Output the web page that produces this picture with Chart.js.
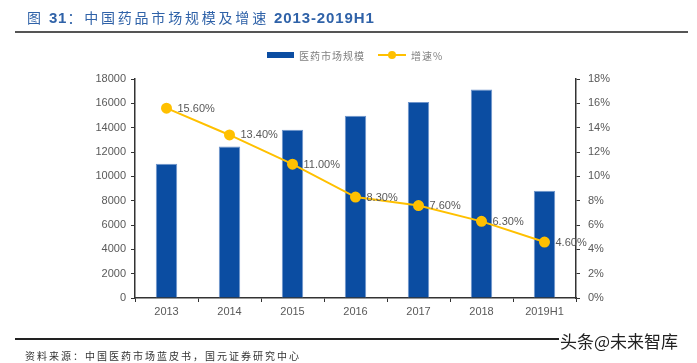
<!DOCTYPE html>
<html><head><meta charset="utf-8">
<script src="https://cdn.jsdelivr.net/npm/chart.js@4"></script>
<style>
html,body{margin:0;padding:0;background:#fff;}
#wrap{position:relative;width:697px;height:363px;overflow:hidden;font-family:"Liberation Sans","Noto Sans CJK SC",sans-serif;}
#c{position:absolute;left:0;top:0;}
.title{position:absolute;left:27px;top:8px;line-height:18px;color:#2F62A8;white-space:nowrap;}
.title .lat{font-family:"Liberation Sans",Arial,sans-serif;font-weight:bold;font-size:15px;letter-spacing:0.9px;}
.title .cjk{font-family:"Noto Sans CJK SC",sans-serif;font-size:14px;letter-spacing:2.8px;}
.rule1{position:absolute;left:15px;top:31px;width:673px;height:1.5px;background:#555;}
.rule2{position:absolute;left:15px;top:338px;width:544px;height:2px;background:#222;}
.src{position:absolute;left:25px;top:349px;line-height:14px;font-size:10px;letter-spacing:2px;color:#333;font-family:"Noto Sans CJK SC",sans-serif;white-space:nowrap;}
.wm{position:absolute;left:560px;top:331px;line-height:20px;font-size:17px;color:#222;font-family:"Noto Sans CJK SC",sans-serif;white-space:nowrap;}
.leg{position:absolute;top:46px;font-size:10px;letter-spacing:1px;color:#808080;font-family:"Noto Sans CJK SC",sans-serif;white-space:nowrap;}
</style></head>
<body><div id="wrap">
<canvas id="c" width="697" height="363"></canvas>
<div class="title"><span class="cjk">图</span><span class="lat">&nbsp;31</span><span class="cjk">：中国药品市场规模及增速</span><span class="lat" style="margin-left:5px;">2013-2019H1</span></div>
<div class="rule1"></div>
<div class="leg" style="left:267px;"><span style="display:inline-block;width:27px;height:6px;background:#0B4DA2;vertical-align:middle;margin-right:5px;"></span><span style="vertical-align:middle">医药市场规模</span></div>
<div class="leg" style="left:378px;"><span style="display:inline-block;position:relative;width:28px;height:2px;background:#FFC000;vertical-align:middle;margin-right:5px;"><span style="position:absolute;left:10px;top:-3px;width:8px;height:8px;border-radius:4px;background:#FFC000;"></span></span><span style="vertical-align:middle">增速%</span></div>
<div class="rule2"></div>
<div class="src">资料来源：中国医药市场蓝皮书，国元证券研究中心</div>
<div class="wm">头条@未来智库</div>
</div>
<script>
const categories = ["2013","2014","2015","2016","2017","2018","2019H1"];
const marketSize = [11028, 12457, 13829, 14975, 16118, 17131, 8819];
const growthPct = [15.6, 13.4, 11.0, 8.3, 7.6, 6.3, 4.6];
const growthLabels = ["15.60%","13.40%","11.00%","8.30%","7.60%","6.30%","4.60%"];

const labelPlugin = {
  id:'lineLabels',
  afterDatasetsDraw(chart){
    const meta = chart.getDatasetMeta(0);
    const ctx = chart.ctx;
    ctx.save();
    ctx.font = '11px "Liberation Sans", Arial, sans-serif';
    ctx.fillStyle = '#595959';
    ctx.textAlign = 'left';
    ctx.textBaseline = 'middle';
    meta.data.forEach((p,i)=>{ ctx.fillText(growthLabels[i], p.x+11, p.y+0.5); });
    ctx.restore();
  }
};

new Chart(document.getElementById('c'), {
  data:{
    labels: categories,
    datasets:[
      {type:'line', label:'增速%', data: growthPct, yAxisID:'y1', borderColor:'#FFC000', backgroundColor:'#FFC000', borderWidth:2, pointRadius:4.5, pointHoverRadius:4.5, tension:0, order:0},
      {type:'bar', label:'医药市场规模', data: marketSize, yAxisID:'y', backgroundColor:'#0B4DA2', borderColor:'#6F95CC', borderWidth:{top:1,left:1,right:1,bottom:0}, categoryPercentage:1, barPercentage:0.34, order:1}
    ]
  },
  options:{
    responsive:false, animation:false,
    layout:{padding:{top:79,left:0,right:0,bottom:0}},
    plugins:{legend:{display:false}, tooltip:{enabled:false}},
    scales:{
      x:{
        offset:true,
        grid:{display:true, offset:true, drawOnChartArea:false, tickLength:4, color:'#333'},
        border:{color:'#333', width:1.5},
        ticks:{color:'#595959', font:{size:11, family:'"Liberation Sans", Arial'}, padding:3, maxRotation:0},
        afterFit(s){ s.height = 65; }
      },
      y:{
        position:'left', min:0, max:18000,
        ticks:{stepSize:2000, color:'#595959', font:{size:11, family:'"Liberation Sans", Arial'}, padding:5, callback:v=>String(v)},
        grid:{display:true, drawOnChartArea:false, tickLength:4, color:'#333'},
        border:{color:'#333', width:1.5},
        afterFit(s){ s.width = 135; }
      },
      y1:{
        position:'right', min:0, max:18,
        ticks:{stepSize:2, color:'#595959', font:{size:11, family:'"Liberation Sans", Arial'}, padding:8, callback:v=>v+'%'},
        grid:{display:true, drawOnChartArea:false, tickLength:4, color:'#333'},
        border:{color:'#333', width:1.5},
        afterFit(s){ s.width = 121; }
      }
    }
  },
  plugins:[labelPlugin]
});
</script>
</body></html>
